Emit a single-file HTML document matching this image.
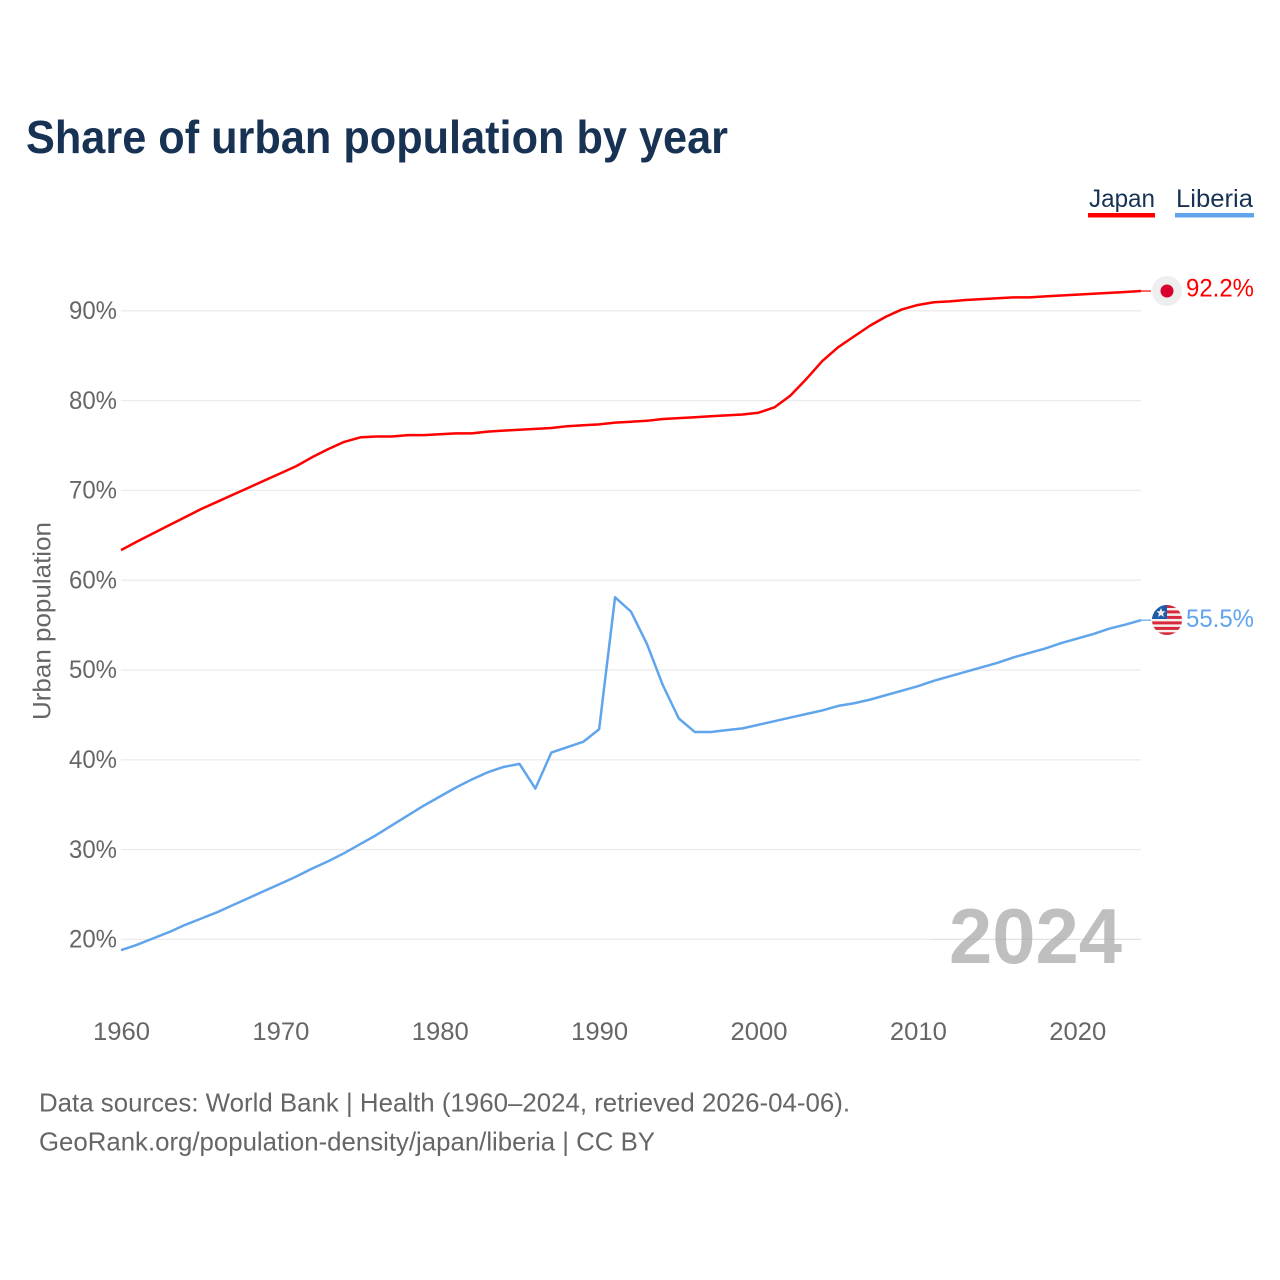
<!DOCTYPE html>
<html lang="en">
<head>
<meta charset="utf-8">
<title>Share of urban population by year</title>
<style>
html,body{margin:0;padding:0;background:#fff;}
svg{display:block;font-family:"Liberation Sans",sans-serif;}
</style>
</head>
<body>
<svg id="chart" xmlns="http://www.w3.org/2000/svg" width="1280" height="1280" viewBox="0 0 1280 1280">
  <defs>
    <clipPath id="flag-clip"><circle cx="1167" cy="620" r="15"/></clipPath>
  </defs>
  <rect width="1280" height="1280" fill="#fff"/>
  <text x="26" y="153" font-size="46" font-weight="700" fill="#173253" textLength="702" lengthAdjust="spacingAndGlyphs">Share of urban population by year</text>

  <g>
    <g>
      <text x="1089" y="207" font-size="25" fill="#173253" textLength="66" lengthAdjust="spacingAndGlyphs">Japan</text>
      <rect x="1088" y="213" width="67" height="4.5" fill="#ff0000"/>
    </g>
    <g>
      <text x="1176" y="207" font-size="25" fill="#173253" textLength="77" lengthAdjust="spacingAndGlyphs">Liberia</text>
      <rect x="1175" y="213" width="79" height="4.5" fill="#60a5ec"/>
    </g>
  </g>

  <g id="grid"></g>
  <g id="y-axis"></g>
  <g id="x-axis"></g>

  <text transform="translate(50.5 621) rotate(-90)" text-anchor="middle" font-size="25" fill="#666" textLength="198" lengthAdjust="spacingAndGlyphs">Urban population</text>

  <text x="949" y="963" font-size="78" font-weight="700" fill="#bfbfbf" textLength="173" lengthAdjust="spacingAndGlyphs">2024</text>
  <line x1="930" x2="1141" y1="939.3" y2="939.3" stroke="#000" stroke-opacity="0.05" stroke-width="1"/>

  <g id="series"></g>

  <g>
    <circle cx="1167" cy="291" r="15" fill="#eeeeee"/>
    <circle cx="1167" cy="291" r="6.5" fill="#d8002c"/>
  </g>
  <g clip-path="url(#flag-clip)">
    <rect x="1152" y="605" width="30" height="30" fill="#f4f0ee"/>
    <g fill="#d8283c">
      <rect x="1152" y="605" width="30" height="3"/>
      <rect x="1152" y="610.4" width="30" height="3"/>
      <rect x="1152" y="615.9" width="30" height="3"/>
      <rect x="1152" y="621.4" width="30" height="3"/>
      <rect x="1152" y="626.9" width="30" height="3"/>
      <rect x="1152" y="632.3" width="30" height="3"/>
    </g>
    <rect x="1152" y="605" width="15" height="14" fill="#1c5cab"/>
    <polygon points="1161,608 1162.3,611.3 1165.5,611.3 1163,613.5 1164,617 1161,615 1158,617 1159,613.5 1156.5,611.3 1159.7,611.3" fill="#f4f0ee"/>
  </g>

  <text id="value-japan" x="1186" y="296.5" font-size="25" fill="#ff0000" textLength="68" lengthAdjust="spacingAndGlyphs"></text>
  <text id="value-liberia" x="1186" y="627" font-size="25" fill="#60a5ec" textLength="68" lengthAdjust="spacingAndGlyphs"></text>

  <g>
    <text x="39" y="1111.5" font-size="26" fill="#666" textLength="811" lengthAdjust="spacingAndGlyphs">Data sources: World Bank | Health (1960–2024, retrieved 2026-04-06).</text>
    <text x="39" y="1150.5" font-size="26" fill="#666" textLength="616" lengthAdjust="spacingAndGlyphs">GeoRank.org/population-density/japan/liberia | CC BY</text>
  </g>
</svg>
<script>
const startYear = 1960;
const xTickYears = [1960, 1970, 1980, 1990, 2000, 2010, 2020];
const yTickValues = [20, 30, 40, 50, 60, 70, 80, 90];
const japanValues = [63.35, 64.3, 65.2, 66.1, 67.0, 67.9, 68.7, 69.5, 70.3, 71.1, 71.9, 72.7, 73.7, 74.6, 75.4, 75.9, 76.0, 76.0, 76.15, 76.15, 76.25, 76.35, 76.35, 76.55, 76.65, 76.75, 76.85, 76.95, 77.15, 77.25, 77.35, 77.55, 77.65, 77.75, 77.95, 78.05, 78.15, 78.25, 78.35, 78.45, 78.65, 79.25, 80.55, 82.4, 84.4, 85.95, 87.15, 88.35, 89.35, 90.15, 90.65, 90.95, 91.05, 91.2, 91.3, 91.4, 91.5, 91.5, 91.6, 91.7, 91.8, 91.9, 92.0, 92.1, 92.2];
const liberiaValues = [18.8, 19.4, 20.1, 20.8, 21.6, 22.3, 23.0, 23.8, 24.6, 25.4, 26.2, 27.0, 27.9, 28.7, 29.6, 30.6, 31.6, 32.7, 33.8, 34.9, 35.9, 36.9, 37.8, 38.6, 39.2, 39.55, 36.8, 40.8, 41.4, 42.0, 43.4, 58.1, 56.5, 52.9, 48.3, 44.6, 43.1, 43.1, 43.3, 43.5, 43.9, 44.3, 44.7, 45.1, 45.5, 46.0, 46.3, 46.7, 47.2, 47.7, 48.2, 48.8, 49.3, 49.8, 50.3, 50.8, 51.4, 51.9, 52.4, 53.0, 53.5, 54.0, 54.6, 55.05, 55.55];

const NS = 'http://www.w3.org/2000/svg';
const plotLeft = 121, plotRight = 1141;
function xScale(year) { return plotLeft + (year - 1960) * (plotRight - plotLeft) / 64; }
function yScale(v) { return 310.8 + (90 - v) * 8.98; }

function make(tag, attrs, parent) {
  const el = document.createElementNS(NS, tag);
  for (const k in attrs) el.setAttribute(k, attrs[k]);
  parent.appendChild(el);
  return el;
}

const gridGroup = document.getElementById('grid');
const yAxisGroup = document.getElementById('y-axis');
const xAxisGroup = document.getElementById('x-axis');
const seriesGroup = document.getElementById('series');

yTickValues.forEach(function (v) {
  const line = make('line', { x1: plotLeft, x2: plotRight, y1: yScale(v), y2: yScale(v), stroke: '#ebebeb', 'stroke-width': 1.3 }, gridGroup);
  
  
  const label = make('text', { x: 69, y: yScale(v) + 8.2, 'font-size': 25, fill: '#666', textLength: 48, lengthAdjust: 'spacingAndGlyphs' }, yAxisGroup);
  label.textContent = v + '%';
  
  
});

xTickYears.forEach(function (yr) {
  const label = make('text', { x: xScale(yr) - 28, y: 1040, 'font-size': 25, fill: '#666', textLength: 57, lengthAdjust: 'spacingAndGlyphs' }, xAxisGroup);
  label.textContent = String(yr);
  
  
});

function drawSeries(values, color, key) {
  const pts = values.map(function (v, i) {
    return xScale(startYear + i).toFixed(2) + ',' + yScale(v).toFixed(2);
  }).join(' ');
  const line = make('polyline', { points: pts, fill: 'none', stroke: color, 'stroke-width': 2.5, 'stroke-linejoin': 'round' }, seriesGroup);
  
  
  const lastY = yScale(values[values.length - 1]);
  const lead = make('line', { x1: plotRight, x2: 1151, y1: lastY, y2: lastY, stroke: color, 'stroke-width': 1.2 }, seriesGroup);
  
  
}
drawSeries(japanValues, '#ff0000', 'japan');
drawSeries(liberiaValues, '#60a5ec', 'liberia');

document.getElementById('value-japan').textContent = japanValues[japanValues.length - 1].toFixed(1) + '%';
document.getElementById('value-liberia').textContent = liberiaValues[liberiaValues.length - 1].toFixed(1) + '%';
</script>
</body>
</html>
